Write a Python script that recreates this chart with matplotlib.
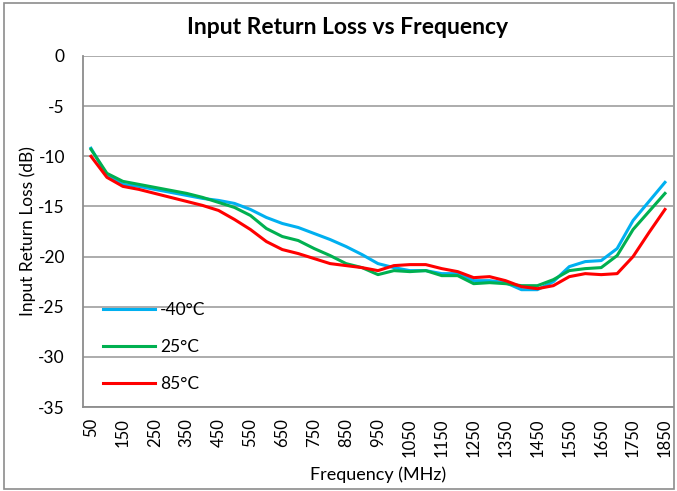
import matplotlib
matplotlib.use("Agg")
from matplotlib import pyplot as plt
from matplotlib.patches import Rectangle

freqs = list(range(50, 1851, 50))
tick_labels = [str(f) for f in freqs]

rl_m40 = [-9.2, -11.9, -12.8, -13.0, -13.3, -13.6, -13.9, -14.2, -14.4, -14.7,
          -15.3, -16.1, -16.7, -17.1, -17.7, -18.3, -19.0, -19.8, -20.7, -21.1,
          -21.4, -21.4, -21.7, -21.7, -22.4, -22.4, -22.6, -23.3, -23.3, -22.5,
          -21.0, -20.5, -20.4, -19.2, -16.4, -14.5, -12.6]
rl_25 = [-9.3, -11.7, -12.5, -12.8, -13.1, -13.4, -13.7, -14.1, -14.6, -15.1,
         -15.9, -17.2, -18.0, -18.4, -19.2, -19.9, -20.7, -21.1, -21.8, -21.4,
         -21.5, -21.4, -21.9, -21.9, -22.7, -22.6, -22.7, -22.9, -22.9, -22.3,
         -21.4, -21.2, -21.1, -19.9, -17.3, -15.5, -13.7]
rl_85 = [-10.0, -12.1, -13.0, -13.3, -13.7, -14.1, -14.5, -14.9, -15.4, -16.3,
         -17.3, -18.5, -19.3, -19.7, -20.2, -20.7, -20.9, -21.1, -21.4, -20.9,
         -20.8, -20.8, -21.2, -21.5, -22.1, -22.0, -22.4, -23.0, -23.2, -22.9,
         -22.0, -21.7, -21.8, -21.7, -20.0, -17.6, -15.3]

series = [("-40°C", rl_m40, "#00B0F0"),
          ("25°C", rl_25, "#00B050"),
          ("85°C", rl_85, "#FF0000")]

plt.rcParams['font.family'] = ['Lato', 'DejaVu Sans']
plt.rcParams['axes.unicode_minus'] = False

fig = plt.figure(figsize=(6.77, 4.91), dpi=100)
fig.patches.append(Rectangle((0.006, 0.004), 0.990, 0.990, transform=fig.transFigure,
                             fill=False, edgecolor="#8c8c8c", linewidth=1.2))
ax = fig.add_axes([0.1226, 0.171, 0.8714, 0.715])

x = list(range(len(freqs)))
for name, vals, col in series:
    ax.plot(x, vals, color=col, linewidth=2.2, label=name)

ax.set_xlim(-0.5, len(freqs) - 0.5)
ax.set_ylim(-35, 0)
ax.set_yticks(range(-35, 1, 5))
ax.set_xticks(x[::2])
ax.set_xticklabels(tick_labels[::2], rotation=90, fontsize=12)
ax.tick_params(axis='y', labelsize=12.5, length=0, pad=13)
ax.tick_params(axis='x', length=0, pad=8)
ax.grid(axis='y', color="#a6a6a6", linewidth=1.3)
ax.set_axisbelow(True)
for s in ['top', 'right']:
    ax.spines[s].set_visible(False)
for s in ['left', 'bottom']:
    ax.spines[s].set_color("#8c8c8c")
    ax.spines[s].set_linewidth(1.3)

ax.set_ylabel("Input Return Loss (dB)", fontsize=12.5)
ax.yaxis.set_label_coords(-0.08, 0.5)
ax.set_xlabel("Frequency (MHz)", fontsize=13)
ax.xaxis.set_label_coords(0.5, -0.17)
fig.text(0.514, 0.943, "Input Return Loss vs Frequency", ha='center', va='center',
         fontsize=16.5, fontweight='bold')

ax.legend(loc='upper left', bbox_to_anchor=(0.022, 0.318), borderaxespad=0,
          frameon=False, fontsize=12.5, handlelength=3.0, labelspacing=1.2,
          handletextpad=0.3)

fig.savefig("out.png", dpi=100)
